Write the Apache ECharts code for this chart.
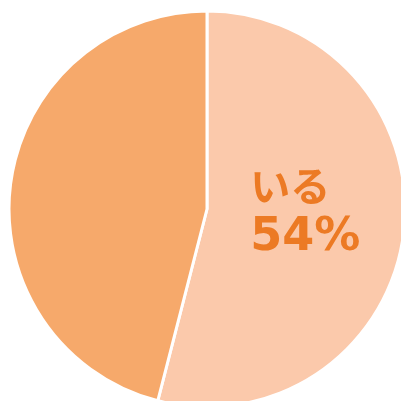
<!DOCTYPE html>
<html>
<head>
<meta charset="utf-8">
<script src="https://cdn.jsdelivr.net/npm/echarts@6/dist/echarts.min.js"></script>
<style>
  html, body { margin: 0; padding: 0; background: #fff; }
  #chart { width: 401px; height: 401px; }
</style>
</head>
<body>
<div id="chart"></div>
<script>
const names = ['いる', 'いない'];
const values = [54, 46];
const colors = ['#FBC9AB', '#F6A96B'];

const chart = echarts.init(document.getElementById('chart'));

chart.setOption({
  animation: false,
  series: [
    {
      type: 'pie',
      center: [207, 209],
      radius: 198,
      startAngle: 90,
      clockwise: true,
      itemStyle: { borderColor: '#fff', borderWidth: 3 },
      data: names.map((n, i) => ({
        name: n,
        value: values[i],
        itemStyle: { color: colors[i] },
        label: i === 0 ? {
          show: true,
          position: 'inside',
          formatter: '{t|{b}}\n{p|{d}%}',
          align: 'left',
          offset: [-4, -10],
          color: '#EC7A24',
          rich: {
            t: {
              color: '#EC7A24',
              fontSize: 40,
              fontWeight: 'bold',
              lineHeight: 52,
              width: 108,
              align: 'left',
              fontFamily: '"Noto Sans CJK JP", sans-serif'
            },
            p: {
              color: '#EC7A24',
              fontSize: 46,
              fontWeight: 'bold',
              lineHeight: 52,
              width: 108,
              align: 'left',
              fontFamily: '"DejaVu Sans", sans-serif'
            }
          }
        } : { show: false }
      })),
      labelLine: { show: false },
      emphasis: { disabled: true }
    }
  ]
});
</script>
</body>
</html>
